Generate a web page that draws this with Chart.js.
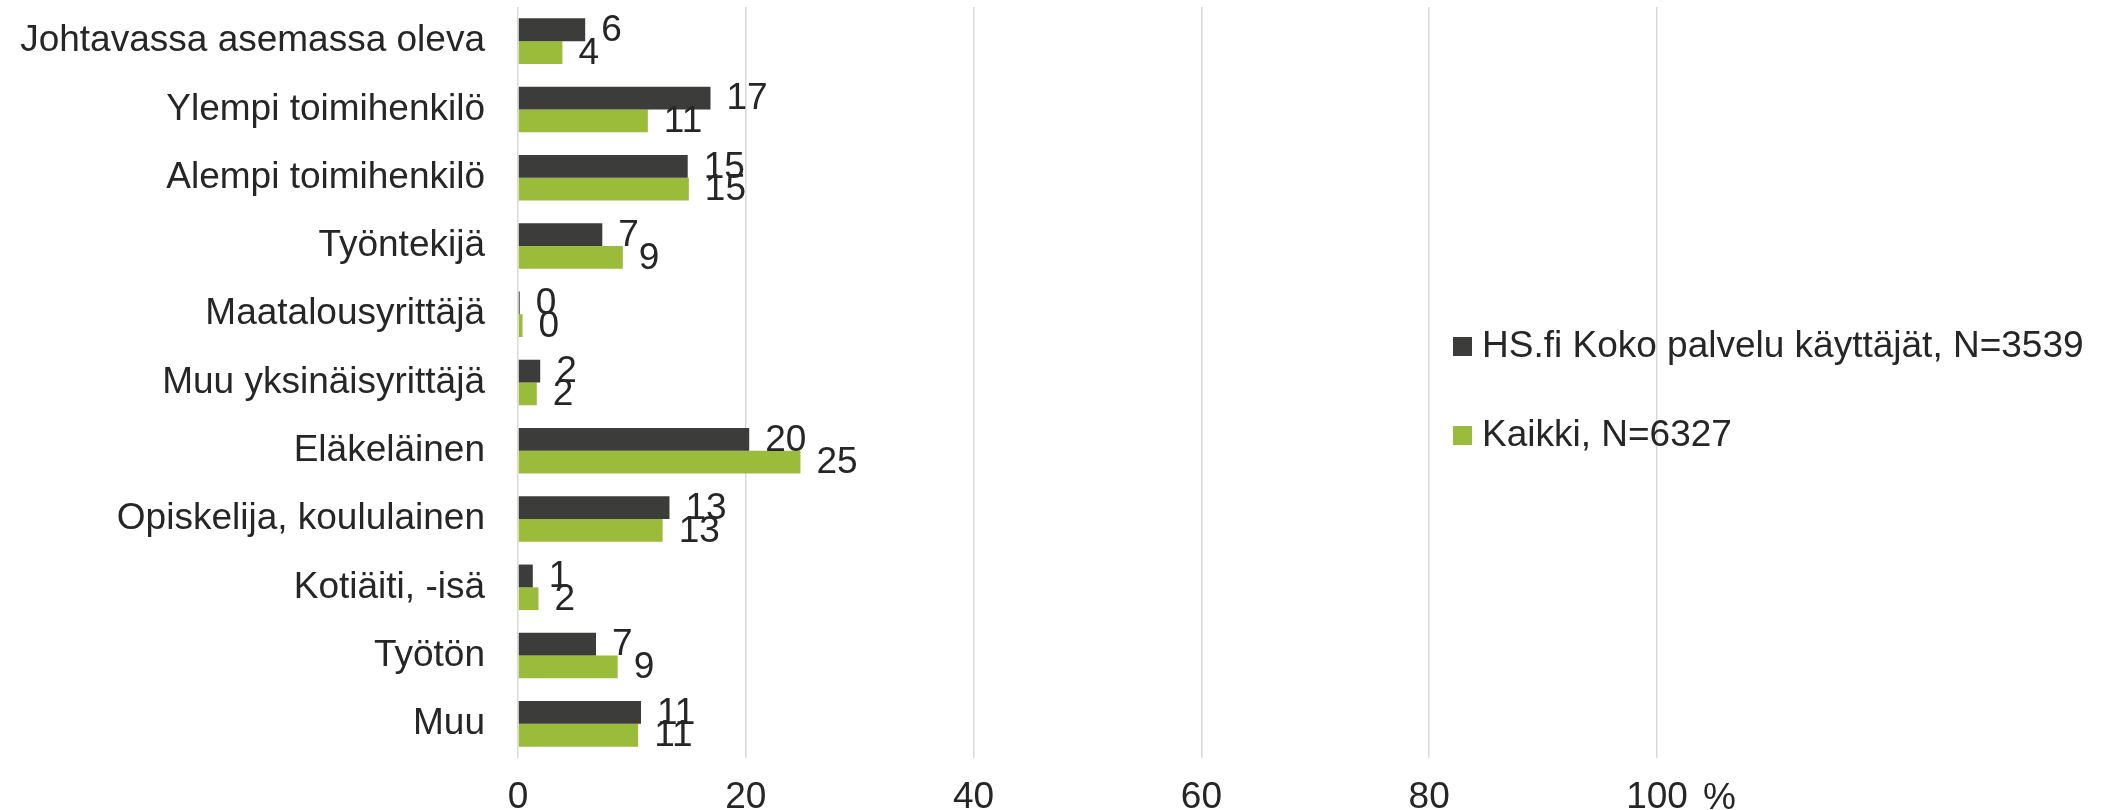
<!DOCTYPE html>
<html>
<head>
<meta charset="utf-8">
<script src="https://cdn.jsdelivr.net/npm/chart.js@4/dist/chart.umd.min.js"></script>
<style>
    body { margin: 0; background: #fff; }
    #wrap { width: 2117px; height: 810px; }
</style>
</head>
<body>
<div id="wrap"><canvas id="myChart"></canvas></div>
<script>
const categories = [
    "Johtavassa asemassa oleva",
    "Ylempi toimihenkilö",
    "Alempi toimihenkilö",
    "Työntekijä",
    "Maatalousyrittäjä",
    "Muu yksinäisyrittäjä",
    "Eläkeläinen",
    "Opiskelija, koululainen",
    "Kotiäiti, -isä",
    "Työtön",
    "Muu"
];

const seriesNames = ["HS.fi Koko palvelu käyttäjät, N=3539", "Kaikki, N=6327"];

const hsValues = [5.9, 16.9, 14.9, 7.4, 0.15, 1.95, 20.3, 13.3, 1.3, 6.85, 10.8];
const allValues = [3.9, 11.4, 15.0, 9.2, 0.4, 1.65, 24.8, 12.7, 1.8, 8.75, 10.55];

const xTicks = [0, 20, 40, 60, 80, 100];

const textColor = "#262626";
const font = { family: "'Liberation Sans', Arial, sans-serif", size: 37 };
const fontStr = "37px 'Liberation Sans', Arial, sans-serif";

// arvojen tekstit palkkien perään
const valueLabels = {
    id: "valueLabels",
    afterDatasetsDraw(chart) {
        const c = chart.ctx;
        c.save();
        c.font = fontStr;
        c.fillStyle = textColor;
        c.textAlign = "left";
        c.textBaseline = "middle";
        chart.data.datasets.forEach((ds, i) => {
            chart.getDatasetMeta(i).data.forEach((bar, j) => {
                c.fillText(String(Math.round(ds.data[j])), bar.x + 16, bar.y + 1);
            });
        });
        c.restore();
    }
};

// selite ja %-merkki
const extras = {
    id: "extras",
    afterDraw(chart) {
        const c = chart.ctx;
        c.save();
        c.font = fontStr;
        c.textBaseline = "middle";
        c.textAlign = "left";
        chart.data.datasets.forEach((ds, i) => {
            const y = 346 + i * 89;
            c.fillStyle = ds.backgroundColor;
            c.fillRect(1453, y - 9, 19, 19);
            c.fillStyle = textColor;
            c.fillText(ds.label, 1482, y + 1);
        });
        const xs = chart.scales.x;
        c.fillText("%", xs.getPixelForValue(100) + 46, 799);
        c.restore();
    }
};

const ctx = document.getElementById("myChart");

new Chart(ctx, {
    type: "bar",
    data: {
        labels: categories,
        datasets: [{
            label: seriesNames[0],
            data: hsValues,
            backgroundColor: "#3c3c3b"
        }, {
            label: seriesNames[1],
            data: allValues,
            backgroundColor: "#9bbb3b"
        }]
    },
    options: {
        indexAxis: "y",
        responsive: true,
        maintainAspectRatio: false,
        animation: false,
        devicePixelRatio: 1,
        categoryPercentage: 0.667,
        barPercentage: 1.0,
        layout: { padding: { top: 7, right: 460, left: 0, bottom: 0 } },
        plugins: {
            legend: { display: false },
            tooltip: { enabled: false }
        },
        scales: {
            x: {
                min: 0,
                max: 100,
                afterBuildTicks: s => { s.ticks = xTicks.map(v => ({ value: v })); },
                afterFit: s => { s.height = 52; s.paddingLeft = 0; s.paddingRight = 0; },
                grid: { color: "#d9d9d9", lineWidth: 1.5, drawTicks: false },
                border: { display: false },
                ticks: { color: textColor, font: font, padding: 18 }
            },
            y: {
                afterFit: s => { s.width = 518; s.paddingTop = 0; s.paddingBottom = 0; },
                grid: { display: false, drawTicks: false },
                border: { display: false },
                ticks: { color: textColor, font: font, padding: 33 }
            }
        }
    },
    plugins: [valueLabels, extras]
});
</script>
</body>
</html>
